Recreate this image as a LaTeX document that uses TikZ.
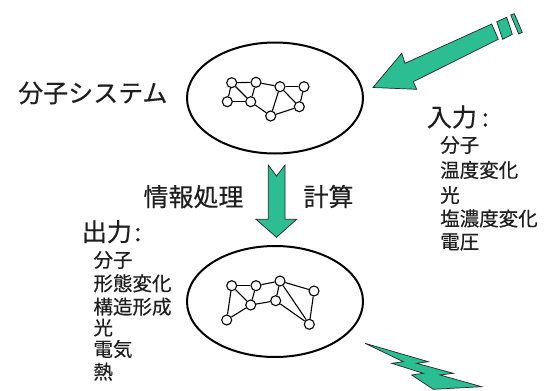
\documentclass[tikz,border=0pt]{standalone}
\usepackage{fontspec}
\setmainfont{Noto Sans CJK JP}
\newfontfamily\jpm[FakeBold=0.35]{Noto Sans CJK JP}
\usetikzlibrary{shapes.geometric}
\definecolor{grn}{RGB}{44,190,146}
\definecolor{txt}{RGB}{30,30,30}
\begin{document}
\begin{tikzpicture}[x=1pt,y=-1pt,
  mol/.style={draw, ellipse, line width=2pt, minimum width=176pt, minimum height=111pt, inner sep=0pt},
  atom/.style={draw, circle, fill=white, line width=1.1pt, minimum size=10pt, inner sep=0pt},
  bond/.style={line width=1.1pt},
  greenshape/.style={fill=grn, draw=black!85, line width=0.7pt, line join=miter},
  big/.style={font=\jpm\fontsize{25}{30}\selectfont, text=txt, anchor=west, inner sep=0pt},
  small/.style={font=\jpm\fontsize{19.5}{24}\selectfont, text=txt, anchor=west, inner sep=0pt}]
\useasboundingbox (0,0) rectangle (547,391);

% systems
\node[mol] (sysTop) at (275,98) {};
\node[mol] (sysBot) at (275,301.5) {};

% top molecule network
\node[atom] (t1) at (231.7,82.7) {};
\node[atom] (t2) at (256,82.3) {};
\node[atom] (t3) at (280,86.7) {};
\node[atom] (t4) at (304,86.7) {};
\node[atom] (t5) at (227.3,101.7) {};
\node[atom] (t6) at (250.7,101.7) {};
\node[atom] (t7) at (299.3,106.7) {};
\node[atom] (t8) at (270.7,116) {};
\foreach \a/\b in {t1/t2,t1/t5,t1/t6,t2/t6,t5/t6,t2/t3,t3/t4,t3/t8,t3/t7,t4/t7,t6/t8,t8/t7}
  \draw[bond] (\a) -- (\b);

% bottom molecule network
\node[atom] (b1) at (231.7,285.7) {};
\node[atom] (b2) at (256,285.7) {};
\node[atom] (b3) at (280,281) {};
\node[atom] (b4) at (314,291) {};
\node[atom] (b5) at (250.7,305) {};
\node[atom] (b6) at (275.7,300.7) {};
\node[atom] (b7) at (226.7,320) {};
\node[atom] (b8) at (309.3,324.3) {};
\foreach \a/\b in {b1/b2,b1/b5,b1/b7,b2/b5,b2/b3,b3/b4,b3/b6,b5/b6,b5/b7,b6/b8,b3/b8,b4/b8}
  \draw[bond] (\a) -- (\b);

% input arrow (striped tail)
\draw[greenshape] (373,87.5) -- (401.7,53.3) -- (405,63.3) -- (491.7,24) -- (498.3,39.3)
  -- (413.3,81.7) -- (416.7,89.3) -- cycle;
\draw[greenshape] (496.7,21.7) -- (506.7,17.3) -- (512.3,34.3) -- (502.7,39.3) -- cycle;
\draw[greenshape] (510.7,15) -- (514.3,13.7) -- (522.3,32.3) -- (518.7,34) -- cycle;

% down arrow (notched)
\draw[greenshape] (268.3,165) -- (276.5,176) -- (285,165) -- (285,219.3) -- (296.7,219.3)
  -- (276.5,237.3) -- (256,219.3) -- (268.3,219.3) -- cycle;

% lightning bolt
\draw[greenshape] (365,343.3) -- (428.3,361.7) -- (416.7,363.3) -- (453.3,373.3) -- (440,375)
  -- (481.7,386.7) -- (433.3,389.3) -- (411.7,375) -- (423.3,373.3) -- (391.7,363.3)
  -- (403.3,361.7) -- cycle;

% labels
\node[big] (lblSys) at (18,93) {分子システム};
\node[big] (lblIn) at (426.7,117) {入力\hspace{0.2em}:};
\node[big] (lblProc) at (143.3,196.7) {情報処理};
\node[big] (lblCalc) at (303.3,196.5) {計算};
\node[big] (lblOut) at (81.7,231.7) {出力\hspace{0.1em}:};

\node[small] (in1) at (440,145) {分子};
\node[small] (in2) at (440,170) {温度変化};
\node[small] (in3) at (440,195) {光};
\node[small] (in4) at (440,218.5) {塩濃度変化};
\node[small] (in5) at (440,242) {電圧};

\node[small] (out1) at (93.3,260) {分子};
\node[small] (out2) at (93.3,283.3) {形態変化};
\node[small] (out3) at (93.3,306.7) {構造形成};
\node[small] (out4) at (93.3,327.5) {光};
\node[small] (out5) at (93.3,349) {電気};
\node[small] (out6) at (93.3,371.7) {熱};
\end{tikzpicture}
\end{document}
